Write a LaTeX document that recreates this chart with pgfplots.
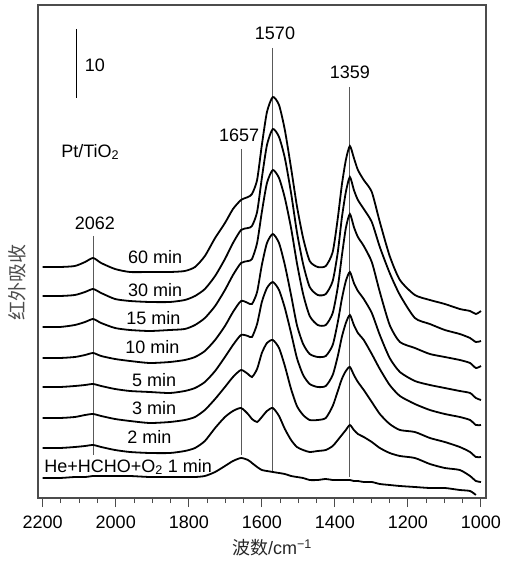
\documentclass[border=0pt]{standalone}
\usepackage{fontspec}
\setmainfont{Liberation Sans}
\newfontfamily\cjk{Noto Sans CJK SC}
\usepackage{pgfplots}
\usepackage{pgfplotstable}
\pgfplotsset{compat=1.18}

% wavenumber / stacked IR traces (offset units, one column per time)
\pgfplotstableread{
wn   c60  c30  c15  c10  c5   c3   c2   c1
2200 -267 -296 -327 -358 -387 -418 -448 -478
2153 -267 -296 -327 -358 -387 -418 -448 -478
2112 -266 -295 -325 -357 -386 -417 -447 -477
2084 -262 -292 -322 -355 -385 -415 -446 -477
2062 -258 -289 -319 -353 -384 -414 -445 -476
2040 -263 -293 -323 -356 -386 -416 -447 -476
2002 -269 -299 -328 -359 -389 -419 -450 -476
1961 -272 -301 -330 -361 -391 -421 -452 -476
1907 -272 -302 -331 -363 -392 -423 -453 -477
1852 -272 -302 -330 -362 -393 -422 -453 -477
1811 -271 -300 -329 -360 -391 -420 -451 -477
1783 -267 -296 -325 -357 -388 -417 -448 -477
1756 -256 -289 -318 -351 -382 -410 -441 -476
1728 -238 -276 -306 -340 -371 -399 -428 -472
1701 -223 -259 -290 -326 -357 -387 -417 -466
1679 -209 -243 -275 -312 -345 -377 -411 -461
1657 -200 -230 -263 -301 -335 -370 -408 -458
1638 -197 -228 -261 -303 -336 -374 -414 -460
1627 -194 -226 -259 -304 -337 -377 -419 -463
1613 -180 -212 -243 -292 -324 -369 -422 -467
1600 -145 -178 -212 -265 -302 -353 -417 -470
1586 -112 -145 -183 -243 -288 -343 -411 -471
1570 -97  -129 -170 -234 -282 -340 -408 -472
1553 -105 -137 -178 -243 -290 -348 -416 -473
1537 -130 -158 -198 -265 -308 -366 -429 -474
1520 -168 -193 -228 -295 -333 -389 -440 -476
1504 -206 -232 -263 -325 -358 -406 -447 -477
1487 -238 -264 -294 -344 -375 -415 -450 -478
1469 -261 -287 -316 -354 -384 -420 -452 -480
1447 -267 -295 -325 -357 -387 -420 -451 -480
1425 -266 -294 -325 -356 -386 -418 -450 -479
1406 -252 -281 -313 -345 -375 -406 -446 -480
1392 -218 -252 -287 -322 -356 -391 -440 -480
1381 -185 -218 -256 -299 -337 -379 -435 -480
1370 -160 -192 -228 -281 -323 -371 -430 -480
1359 -146 -177 -214 -272 -315 -367 -425 -480
1348 -158 -190 -227 -283 -325 -375 -430 -481
1337 -170 -200 -237 -291 -333 -382 -434 -481
1321 -180 -209 -246 -299 -340 -390 -437 -482
1299 -192 -222 -262 -313 -354 -402 -442 -482
1277 -222 -247 -292 -335 -369 -414 -448 -484
1250 -256 -273 -325 -358 -385 -424 -453 -485
1222 -280 -295 -342 -372 -396 -430 -456 -486
1181 -295 -318 -348 -381 -404 -432 -458 -487
1140 -300 -324 -354 -385 -410 -438 -464 -488
1099 -304 -330 -357 -388 -414 -442 -468 -488
1058 -309 -334 -360 -391 -417 -447 -470 -490
1030 -311 -338 -363 -393 -420 -452 -476 -491
1014 -314 -342 -368 -398 -425 -457 -481 -495
1000 -311 -341 -366 -400 -425 -457 -482 nan
}\spectra

\newcommand{\lbl}{\fontsize{18}{21}\selectfont}

\begin{document}
\begin{tikzpicture}
\begin{axis}[
    scale only axis, width=448pt, height=493pt,
    x dir=reverse,
    xmin=986.3, xmax=2212.9,
    ymin=-498, ymax=-5,
    xtick={1000,1200,...,2200},
    minor x tick num=3,
    ytick=\empty,
    xtick pos=bottom,
    tick align=outside,
    major tick length=9pt,
    minor tick length=5pt,
    axis line style={line width=1.2pt, black!70},
    tick style={line width=1pt, black!70},
    ticklabel style={font=\lbl},
    xticklabel style={yshift=-5pt},
    /pgf/number format/assume math mode=true,
    /pgf/number format/1000 sep={},
    unbounded coords=discard,
    clip=false,
]
\coordinate (fl) at (axis cs:2212.9,-498);
\coordinate (fr) at (axis cs:986.3,-5);
% marker lines
\addplot[black!65, line width=1pt] coordinates {(2062,-236) (2062,-455)};
\addplot[black!65, line width=1pt] coordinates {(1657,-149) (1657,-455)};
\addplot[black!65, line width=1pt] coordinates {(1570,-48) (1570,-472)};
\addplot[black!65, line width=1pt] coordinates {(1359,-87) (1359,-477)};
% scale bar
\addplot[black, line width=1.1pt] coordinates {(2107,-29) (2107,-98)};

\addplot[black, line width=1.8pt, smooth, tension=0.4] table[x=wn, y=c60] {\spectra};
\addplot[black, line width=1.8pt, smooth, tension=0.4] table[x=wn, y=c30] {\spectra};
\addplot[black, line width=1.8pt, smooth, tension=0.4] table[x=wn, y=c15] {\spectra};
\addplot[black, line width=1.8pt, smooth, tension=0.4] table[x=wn, y=c10] {\spectra};
\addplot[black, line width=1.8pt, smooth, tension=0.4] table[x=wn, y=c5] {\spectra};
\addplot[black, line width=1.8pt, smooth, tension=0.4] table[x=wn, y=c3] {\spectra};
\addplot[black, line width=1.8pt, smooth, tension=0.4] table[x=wn, y=c2] {\spectra};
\addplot[black, line width=1.8pt, smooth, tension=0.4] table[x=wn, y=c1] {\spectra};

\node[font=\lbl] at (axis cs:2057,-223) {2062};
\node[font=\lbl] at (axis cs:1662,-135) {1657};
\node[font=\lbl] at (axis cs:1564,-33) {1570};
\node[font=\lbl] at (axis cs:1359,-72) {1359};
\node[font=\lbl] at (axis cs:2057,-65) {10};
\node[font=\lbl] at (axis cs:2070,-152) {Pt/TiO\textsubscript{2}};

\node[font=\lbl] at (axis cs:1892,-257) {60 min};
\node[font=\lbl] at (axis cs:1892,-290) {30 min};
\node[font=\lbl] at (axis cs:1897,-318) {15 min};
\node[font=\lbl] at (axis cs:1900,-347) {10 min};
\node[font=\lbl] at (axis cs:1895,-380) {5 min};
\node[font=\lbl] at (axis cs:1895,-408) {3 min};
\node[font=\lbl] at (axis cs:1908,-437) {2 min};
\node[font=\lbl] at (axis cs:1966,-467) {He+HCHO+O\textsubscript{2} 1 min};
\end{axis}
\node[rotate=90, font=\fontsize{19}{21}\selectfont\cjk, text=black!70] at ([xshift=-21pt,yshift=215pt]fl) {红外吸收};
\node[font=\lbl, text=black!85] at ([xshift=234pt,yshift=-50pt]fl) {{\cjk 波数}/cm\textsuperscript{\char"2212 1}};
\path ([xshift=-38pt,yshift=-65pt]fl) rectangle ([xshift=16pt,yshift=5pt]fr);
\end{tikzpicture}
\end{document}
